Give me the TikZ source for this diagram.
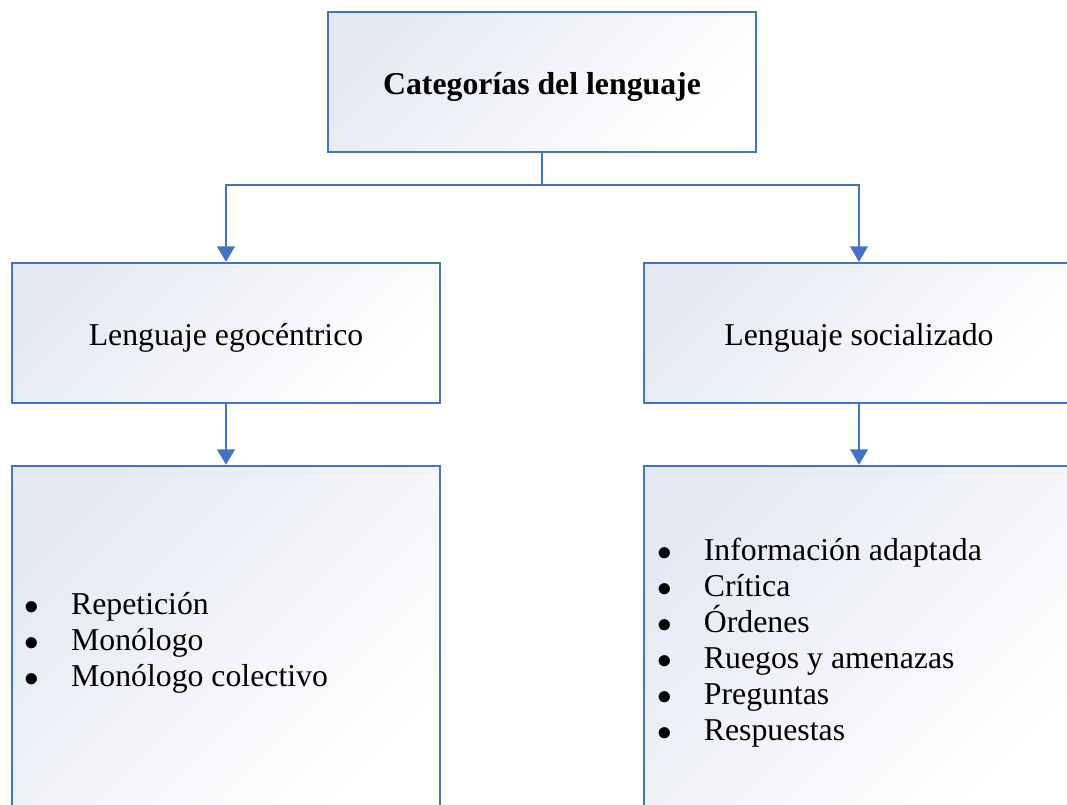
\documentclass[tikz,border=0pt]{standalone}
\usepackage{fontspec}
\setmainfont{Liberation Serif}
\usetikzlibrary{arrows.meta,positioning}

\definecolor{catblue}{HTML}{4472C4}
\definecolor{catshade}{HTML}{E6E9F4}

% one bullet line of a list
\newcommand\catitem[1]{\makebox[33pt][l]{$\bullet$}#1}

\tikzset{
  catbox/.style={draw=catblue, line width=1.6pt, top color=catshade,
                 middle color=white!60!catshade, bottom color=white,
                 shading angle=45, text height=22.2pt, text depth=4.6pt,
                 minimum width=10.7cm, minimum height=3.5cm},
  catlist/.style={catbox, minimum width=10.75cm, minimum height=8.7cm},
  catlink/.style={draw=catblue, line width=1.6pt,
                  -{Triangle[length=11pt,width=12.5pt]}},
  catitems/.style={align=left, inner sep=0pt, anchor=west}
}

\begin{document}
\begin{tikzpicture}[x=0.025cm, y=-0.025cm,
  font=\fontsize{22.6pt}{25.6pt}\selectfont]
  \clip (0,0) rectangle (1067,804);
  \useasboundingbox (0,0) rectangle (1067,804);

  \node[catbox] (top) at (542,82) {\textbf{Categorías del lenguaje}};
  \node[catbox] (egoc) at (226,333) {Lenguaje egocéntrico};
  \node[catbox, minimum width=10.75cm] (social) at (859,333) {Lenguaje socializado};
  \node[catlist, minimum width=10.7cm] (egolist) at (226,640) {};
  \node[catlist] (sociallist) at (859,640) {};

  \node[catitems] (egoitems) at ([xshift=0.34cm, yshift=-0.07cm]egolist.west)
    {\catitem{Repetición}\\ \catitem{Monólogo}\\ \catitem{Monólogo colectivo}};
  \node[catitems] (socialitems) at ([xshift=0.36cm, yshift=-0.07cm]sociallist.west)
    {\catitem{Información adaptada}\\ \catitem{Crítica}\\ \catitem{Órdenes}\\
     \catitem{Ruegos y amenazas}\\ \catitem{Preguntas}\\ \catitem{Respuestas}};

  \draw[catlink] (top.south) -- ++(0,32) -| (egoc.north);
  \draw[catlink] (top.south) -- ++(0,32) -| (social.north);
  \draw[catlink] (egoc) -- (egolist);
  \draw[catlink] (social) -- (sociallist);
\end{tikzpicture}
\end{document}
